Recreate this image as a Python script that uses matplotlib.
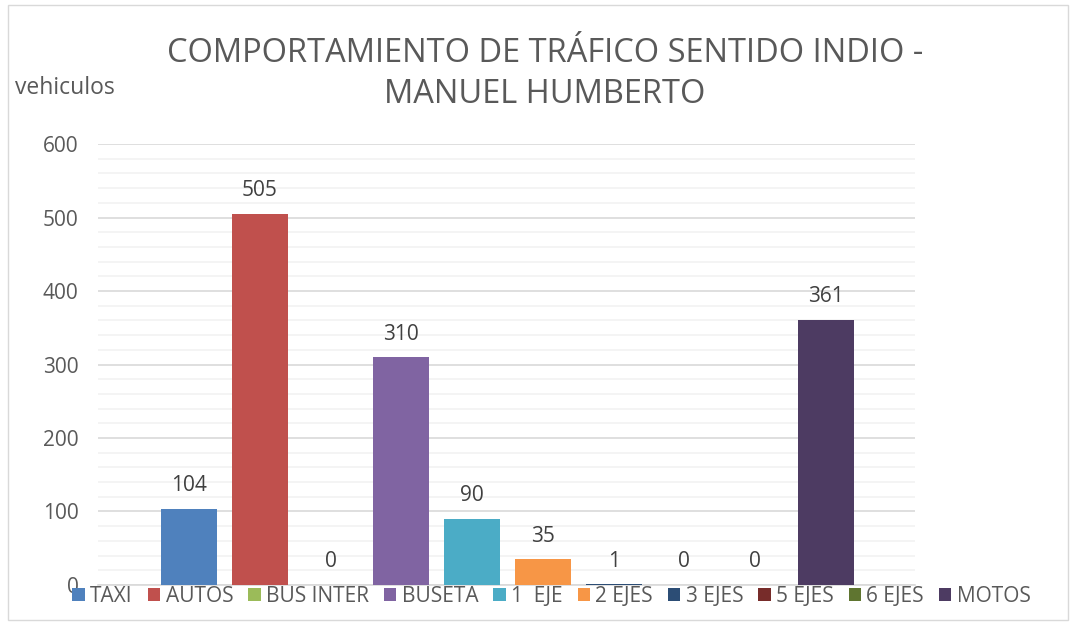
import numpy as np
import matplotlib.pyplot as plt
from matplotlib.patches import Rectangle

# data
categorias = ["TAXI", "AUTOS", "BUS INTER", "BUSETA", "1  EJE", "2 EJES",
              "3 EJES", "5 EJES", "6 EJES", "MOTOS"]
vehiculos = [104, 505, 0, 310, 90, 35, 1, 0, 0, 361]
colores = ["#4F81BD", "#C0504D", "#9BBB59", "#8064A2", "#4BACC6", "#F79646",
           "#2C4D75", "#772C2A", "#5F7530", "#4D3B62"]

plt.rcParams['font.family'] = ['Open Sans', 'DejaVu Sans']
gris = "#595959"

fig = plt.figure(figsize=(10.73, 6.29), dpi=100)
fig.patches.append(Rectangle((0.007, 0.015), 0.988, 0.977, transform=fig.transFigure,
                             fill=False, edgecolor="#D9D9D9", linewidth=1))

ax = fig.add_axes([0.0913, 0.07, 0.7614, 0.701])
x = np.arange(len(categorias))
barras = ax.bar(x, vehiculos, width=0.79, color=colores, label=categorias, zorder=3)

# etiquetas de datos
for xi, v in zip(x, vehiculos):
    ax.annotate(str(v), (xi, v), xytext=(0, 9), textcoords="offset points",
                ha="center", va="bottom", fontsize=15, color="#404040")

ax.set_xlim(-1.285, 10.257)
ax.set_ylim(0, 600)
ax.set_yticks(np.arange(0, 601, 100))
ax.set_yticks(np.arange(0, 601, 20), minor=True)
ax.grid(axis="y", which="major", color="#D9D9D9", linewidth=1.2, zorder=0)
ax.grid(axis="y", which="minor", color="#F2F2F2", linewidth=1.2, zorder=0)
ax.tick_params(axis="y", which="both", length=0, labelsize=15, labelcolor=gris, pad=14)
ax.set_xticks([])
for s in ["top", "right", "left"]:
    ax.spines[s].set_visible(False)
ax.spines["bottom"].set_color("#D9D9D9")
ax.spines["bottom"].set_linewidth(1.2)

fig.text(0.508, 0.882, "COMPORTAMIENTO DE TRÁFICO SENTIDO INDIO -\nMANUEL HUMBERTO",
         ha="center", va="center", fontsize=23.5, color=gris, linespacing=1.3)
fig.text(0.014, 0.86, "vehiculos", ha="left", va="center", fontsize=16.5, color=gris)

fig.legend(barras, categorias, loc="center", bbox_to_anchor=(0.514, 0.052), ncol=10,
           frameon=False, fontsize=15, handlelength=0.6, handleheight=0.6,
           handletextpad=0.25, columnspacing=0.72, labelcolor=gris)

fig.savefig("out.png", dpi=100)
